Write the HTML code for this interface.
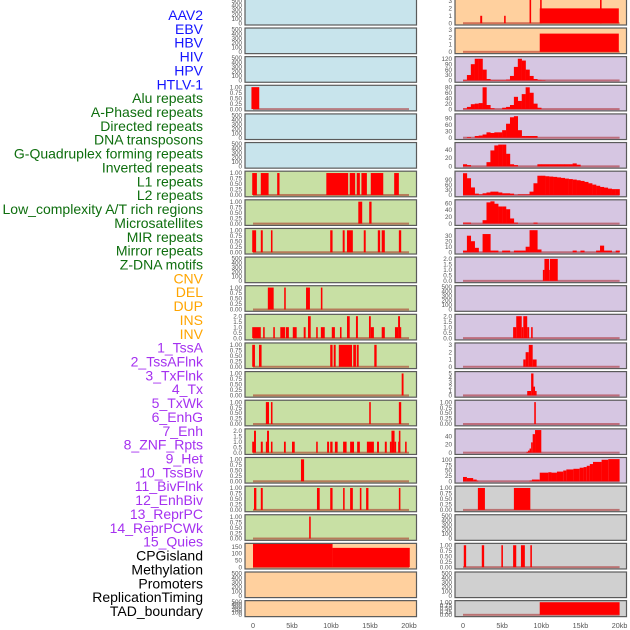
<!DOCTYPE html>
<html><head><meta charset="utf-8"><style>
html,body{margin:0;padding:0;background:#fff;}
svg{display:block;}
</style></head><body>
<svg id="chart" width="630" height="630" viewBox="0 0 630 630" xmlns="http://www.w3.org/2000/svg"></svg>
<script>
// ---------- data ----------
const trackLabels = ["AAV2","EBV","HBV","HIV","HPV","HTLV-1","Alu repeats","A-Phased repeats","Directed repeats","DNA transposons","G-Quadruplex forming repeats","Inverted repeats","L1 repeats","L2 repeats","Low_complexity A/T rich regions","Microsatellites","MIR repeats","Mirror repeats","Z-DNA motifs","CNV","DEL","DUP","INS","INV","1_TssA","2_TssAFlnk","3_TxFlnk","4_Tx","5_TxWk","6_EnhG","7_Enh","8_ZNF_Rpts","9_Het","10_TssBiv","11_BivFlnk","12_EnhBiv","13_ReprPC","14_ReprPCWk","15_Quies","CPGisland","Methylation","Promoters","ReplicationTiming","TAD_boundary"];
const labelGroups = ["virus","virus","virus","virus","virus","virus","repeat","repeat","repeat","repeat","repeat","repeat","repeat","repeat","repeat","repeat","repeat","repeat","repeat","sv","sv","sv","sv","sv","chrom","chrom","chrom","chrom","chrom","chrom","chrom","chrom","chrom","chrom","chrom","chrom","chrom","chrom","chrom","other","other","other","other","other"];
const xTickValues = [0,5,10,15,20];
const xTickLabels = ["0","5kb","10kb","15kb","20kb"];

// left column segments [startKb, endKb, value]
const L4 = [[-0.2,0.8,1]];
const L7 = [[-0.1,0.5,1],[1.0,2.0,1],[3.1,3.4,1],[9.4,12.2,1],[12.4,13.1,1],[13.3,13.7,1],[13.9,14.6,1],[15.1,16.7,1],[18.1,18.7,1]];
const L8 = [[13.5,14.0,1],[14.9,15.2,1]];
const L9 = [[-0.1,0.4,1],[1.0,1.25,1],[2.3,2.5,1],[9.9,10.2,1],[11.5,11.75,1],[12.05,12.8,1],[14.2,14.45,1],[16.0,16.3,1],[16.5,16.9,1],[18.7,19.0,1]];
const L11 = [[1.9,2.65,1],[4.0,4.2,1],[6.8,7.3,1],[8.7,8.9,1]];
const L12 = [[-0.1,1.0,1],[1.3,1.5,1],[2.6,2.8,1],[3.5,4.1,1],[4.2,4.6,1],[5.1,5.6,1],[6.5,6.75,1],[7.05,7.4,2],[8.1,8.3,1],[8.7,9.2,1],[10.1,10.5,1],[11.15,11.35,1],[12.05,12.4,2],[13.2,13.45,2],[14.87,15.1,2],[15.1,15.5,1],[16.5,16.9,1],[18.2,18.6,1],[18.6,18.85,2],[18.85,19.0,1]];
const L13 = [[-0.1,0.25,1],[0.77,1.1,1],[9.9,10.2,1],[10.35,10.6,1],[11.0,12.7,1],[12.85,13.2,1],[13.3,13.55,1],[15.55,15.85,1]];
const L14 = [[19.06,19.3,1]];
const L15 = [[1.65,2.05,1],[2.3,2.5,1],[14.9,15.1,1],[18.7,19.0,1]];
const L16 = [[-0.1,0.13,1],[0.13,0.38,2],[1.0,1.25,1],[1.65,1.8,1],[1.8,2.05,2],[2.3,2.5,1],[3.97,4.2,1],[5.0,5.35,1],[8.1,8.3,1],[9.5,9.75,1],[9.9,10.2,1],[10.5,10.85,1],[11.55,12.0,1],[12.45,12.95,1],[13.35,13.7,1],[14.6,15.5,1],[15.9,16.15,1],[16.9,17.15,1],[17.55,17.75,1],[17.75,18.15,2],[18.15,18.35,1],[18.6,18.7,1],[18.7,18.9,2],[19.5,19.7,1]];
const L17 = [[6.15,6.55,1]];
const L18 = [[0.13,0.43,1],[1.0,1.25,1],[8.2,8.55,1],[9.9,10.2,1],[11.55,11.75,1],[12.45,12.8,1],[13.7,13.9,1],[14.5,14.8,1],[18.7,18.9,1]];
const L19 = [[7.2,7.4,1]];
const L20 = [[0,10.2,200],[10.2,20.1,141]];

// right column
const R1 = [[2.2,2.45,1],[5.25,5.45,1],[8.5,8.7,3.5],[9.8,19.9,2],[9.85,10.05,3.5],[17.5,17.7,3.5]];
const R2 = [[9.8,19.9,2.5]];
// 0.5kb histogram bins
const R3 = [3,30,90,120,120,60,8,2,2,2,2,5,25,75,120,110,60,25,8,3,2,0,0,0,0,0,0,0,0,0,0,0,0,0,0,0,0,0,0,0];
const R4 = [2,8,18,20,22,80,15,3,0,0,5,8,15,45,30,55,80,60,20,5,0,0,0,0,0,0,0,0,0,0,0,0,0,0,0,0,0,0,0,0];
const R5 = [0,3,0,8,10,15,25,22,25,25,35,65,95,100,35,8,8,8,8,0,0,0,0,0,0,0,0,0,0,0,0,0,0,0,0,0,0,0,0,0];
const R6 = [5,3,0,0,0,0,10,38,50,52,52,30,5,3,0,0,0,0,0,5,5,5,5,5,5,5,5,5,7,4,0,0,0,0,0,0,0,0,0,0];
const R7 = [130,100,45,8,3,10,15,20,20,15,10,10,8,0,3,3,3,20,70,115,115,112,110,108,105,102,98,95,92,88,84,78,70,62,55,48,44,38,35,35];
const R8 = [3,3,0,0,0,10,62,65,58,50,50,42,15,3,0,0,0,0,3,0,0,0,0,0,0,0,0,0,0,0,0,0,0,0,0,0,0,0,0,0];
const R9 = [3,30,20,8,0,33,33,3,3,0,3,3,0,3,3,3,10,40,40,5,0,0,0,0,0,0,0,0,3,0,3,0,0,0,3,12,3,3,0,3];
const R10 = [[10.2,10.4,1],[10.4,11.0,2],[11.0,11.1,1],[11.1,12.1,2]];
const R12 = [[6.4,6.8,1],[6.8,7.5,2],[7.5,7.7,1],[7.7,8.2,2],[8.2,8.45,1],[8.7,8.9,1]];
const R13 = [[7.7,8.0,1],[8.0,8.4,2],[8.4,8.9,3],[8.9,9.4,1]];
const R14 = [[8.2,8.7,1],[8.7,9.0,5],[9.0,9.2,2],[9.2,9.4,1]];
const R15 = [[9.1,9.3,1]];
const R16 = [[8.1,8.3,2],[8.3,8.5,5],[8.5,8.7,10],[8.7,8.9,25],[8.9,9.2,45],[9.2,10.0,55]];
const R17 = [[0,0.5,20],[0.5,1.3,15],[1.3,1.75,8],[1.75,1.95,3],[8.5,8.8,3],[8.8,9.8,8],[9.8,10.9,40],[10.9,11.3,42],[11.3,12.0,40],[12.0,12.8,45],[12.8,13.2,50],[13.2,14.1,55],[14.1,14.9,58],[14.9,15.4,63],[15.4,15.8,66],[15.8,16.2,72],[16.2,16.6,80],[16.6,17.7,90],[17.7,18.55,100],[18.55,20.0,103]];
const R18 = [[1.9,2.8,1],[6.5,8.6,1]];
const R20 = [[0.1,0.4,1],[2.4,2.7,1],[4.9,5.1,1],[6.4,6.8,1],[7.4,7.9,1],[8.6,8.8,1]];
const R22 = [[9.8,20,1]];

// tick label sets
const T500 = ["0","100","200","300","400","500"], V500 = [0,100,200,300,400,500];
const T1 = ["0.00","0.25","0.50","0.75","1.00"], V1 = [0,0.25,0.5,0.75,1];
const T2 = ["0.0","0.5","1.0","1.5","2.0"], V2 = [0,0.5,1,1.5,2];
const T3 = ["0","1","2","3"], V3 = [0,1,2,3];

// ---------- layout ----------
const BG = {blue:"#c8e4ec", green:"#c8e0a4", peach:"#ffd09e", lav:"#d6c6e2", gray:"#d0d0d0"};
const GROUP_COLOR = {virus:"#1414ff", repeat:"#0e6e0e", sv:"#ffa500", chrom:"#a531f0", other:"#000000"};
const COLS = [{x0:245,x1:416.5,d0:253,d1:409,name:"left"},{x0:455,x1:626.5,d0:463,d1:619.6,name:"right"}];
function rowTop(i){ return -0.6 + i*28.63; }
function rowH(i){ return i===21 ? 16 : 25.6; }

const panels = [
 {c:0,r:0,bg:"blue",tv:V500,tl:T500,ymax:500},
 {c:0,r:1,bg:"blue",tv:V500,tl:T500,ymax:500},
 {c:0,r:2,bg:"blue",tv:V500,tl:T500,ymax:500},
 {c:0,r:3,bg:"blue",tv:V1,tl:T1,ymax:1.03,segs:L4},
 {c:0,r:4,bg:"blue",tv:V500,tl:T500,ymax:500},
 {c:0,r:5,bg:"blue",tv:V500,tl:T500,ymax:500},
 {c:0,r:6,bg:"green",tv:V1,tl:T1,ymax:1.03,segs:L7},
 {c:0,r:7,bg:"green",tv:V1,tl:T1,ymax:1.03,segs:L8},
 {c:0,r:8,bg:"green",tv:V1,tl:T1,ymax:1.03,segs:L9},
 {c:0,r:9,bg:"green",tv:V500,tl:T500,ymax:500},
 {c:0,r:10,bg:"green",tv:V1,tl:T1,ymax:1.03,segs:L11},
 {c:0,r:11,bg:"green",tv:V2,tl:T2,ymax:2.06,segs:L12},
 {c:0,r:12,bg:"green",tv:V1,tl:T1,ymax:1.03,segs:L13},
 {c:0,r:13,bg:"green",tv:V1,tl:T1,ymax:1.03,segs:L14},
 {c:0,r:14,bg:"green",tv:V1,tl:T1,ymax:1.03,segs:L15},
 {c:0,r:15,bg:"green",tv:V2,tl:T2,ymax:2.06,segs:L16},
 {c:0,r:16,bg:"green",tv:V1,tl:T1,ymax:1.03,segs:L17},
 {c:0,r:17,bg:"green",tv:V1,tl:T1,ymax:1.03,segs:L18},
 {c:0,r:18,bg:"green",tv:V1,tl:T1,ymax:1.03,segs:L19},
 {c:0,r:19,bg:"peach",tv:[0,50,100,150],tl:["0","50","100","150"],ymax:165,segs:L20},
 {c:0,r:20,bg:"peach",tv:V500,tl:T500,ymax:500},
 {c:0,r:21,bg:"peach",tv:V500,tl:T500,ymax:500},
 {c:1,r:0,bg:"peach",tv:V3,tl:T3,ymax:3.05,segs:R1},
 {c:1,r:1,bg:"peach",tv:V3,tl:T3,ymax:3.1,segs:R2},
 {c:1,r:2,bg:"lav",tv:[0,30,60,90,120],tl:["0","30","60","90","120"],ymax:125,bins:R3},
 {c:1,r:3,bg:"lav",tv:[0,20,40,60,80],tl:["0","20","40","60","80"],ymax:83,bins:R4},
 {c:1,r:4,bg:"lav",tv:[0,30,60,90],tl:["0","30","60","90"],ymax:105,bins:R5},
 {c:1,r:5,bg:"lav",tv:[0,20,40],tl:["0","20","40"],ymax:54,bins:R6},
 {c:1,r:6,bg:"lav",tv:[0,30,60,90],tl:["0","30","60","90"],ymax:135,bins:R7},
 {c:1,r:7,bg:"lav",tv:[0,20,40,60],tl:["0","20","40","60"],ymax:66,bins:R8},
 {c:1,r:8,bg:"lav",tv:[0,10,20,30],tl:["0","10","20","30"],ymax:41,bins:R9},
 {c:1,r:9,bg:"lav",tv:V2,tl:T2,ymax:2.06,segs:R10},
 {c:1,r:10,bg:"lav",tv:V500,tl:T500,ymax:500},
 {c:1,r:11,bg:"lav",tv:V2,tl:T2,ymax:2.06,segs:R12},
 {c:1,r:12,bg:"lav",tv:V3,tl:T3,ymax:3.1,segs:R13},
 {c:1,r:13,bg:"lav",tv:[0,1,2,3,4,5],tl:["0","1","2","3","4","5"],ymax:5.15,segs:R14},
 {c:1,r:14,bg:"lav",tv:V1,tl:T1,ymax:1.03,segs:R15},
 {c:1,r:15,bg:"lav",tv:[0,20,40],tl:["0","20","40"],ymax:55,segs:R16},
 {c:1,r:16,bg:"lav",tv:[0,25,50,75,100],tl:["0","25","50","75","100"],ymax:105,segs:R17},
 {c:1,r:17,bg:"gray",tv:V1,tl:T1,ymax:1.03,segs:R18},
 {c:1,r:18,bg:"gray",tv:V500,tl:T500,ymax:500},
 {c:1,r:19,bg:"gray",tv:V1,tl:T1,ymax:1.03,segs:R20},
 {c:1,r:20,bg:"gray",tv:V500,tl:T500,ymax:500},
 {c:1,r:21,bg:"gray",tv:V1,tl:T1,ymax:1.03,segs:R22}
];

const NS = "http://www.w3.org/2000/svg";
const svg = document.getElementById("chart");
function mk(tag, attrs, parent){
  const el = document.createElementNS(NS, tag);
  for (const k in attrs) el.setAttribute(k, attrs[k]);
  (parent||svg).appendChild(el);
  return el;
}

trackLabels.forEach((t,i)=>{
  const el = mk("text",{x:203,y:20+i*13.86,"text-anchor":"end","font-family":"Liberation Sans, sans-serif","font-size":"14",fill:GROUP_COLOR[labelGroups[i]]});
  el.textContent = t;
  
  
});

panels.forEach((p)=>{
  const col = COLS[p.c];
  const top = rowTop(p.r), h = rowH(p.r), bot = top+h;
  const g = mk("g",{});
  
  
  const clipId = "clip"+p.c+"_"+p.r;
  const cp = mk("clipPath",{id:clipId},g);
  mk("rect",{x:col.x0,y:top,width:col.x1-col.x0,height:h},cp);
  const bg = mk("rect",{x:col.x0,y:top,width:col.x1-col.x0,height:h,fill:BG[p.bg]},g);
  
  
  const xs = kb => col.d0 + kb/20*(col.d1-col.d0);
  const yb = bot-1.8, yt = top+1.2;
  const ys = v => yb - v/p.ymax*(yb-yt);
  const marks = mk("g",{"clip-path":"url(#"+clipId+")"},g);
  if (p.segs || p.bins){
    const bl = mk("rect",{x:xs(0),y:yb-1,width:xs(20)-xs(0),height:2,fill:"#a00000","fill-opacity":"0.45"},marks);
    
    
  }
  if (p.segs){
    p.segs.forEach(s=>{
      const y = ys(s[2]);
      const r = mk("rect",{x:xs(s[0]),y:y,width:Math.max(0.8,xs(s[1])-xs(s[0])),height:yb-y,fill:"#ff0000"},marks);
      
      
    });
  }
  if (p.bins){
    p.bins.forEach((v,i)=>{
      if (v<=0) return;
      const y = ys(v);
      const r = mk("rect",{x:xs(i*0.5),y:y,width:xs(0.5)-xs(0)+0.2,height:yb-y,fill:"#ff0000"},marks);
      
      
    });
  }
  const border = mk("rect",{x:col.x0,y:top,width:col.x1-col.x0,height:h,fill:"none",stroke:"#5a5a5a","stroke-width":"1.2"},g);
  
  
  p.tv.forEach((v,i)=>{
    const t = mk("text",{x:col.x0-3,y:ys(v)+2.2,"text-anchor":"end","font-family":"Liberation Sans, sans-serif","font-size":"6.3",fill:"#555"},g);
    t.textContent = p.tl[i];
    
    
  });
});

COLS.forEach(col=>{
  xTickValues.forEach((v,i)=>{
    const x = col.d0 + v/20*(col.d1-col.d0);
    const t = mk("text",{x:x,y:628,"text-anchor":"middle","font-family":"Liberation Sans, sans-serif","font-size":"7.2",fill:"#555"});
    t.textContent = xTickLabels[i];
    
    
  });
});
</script>
</body></html>
